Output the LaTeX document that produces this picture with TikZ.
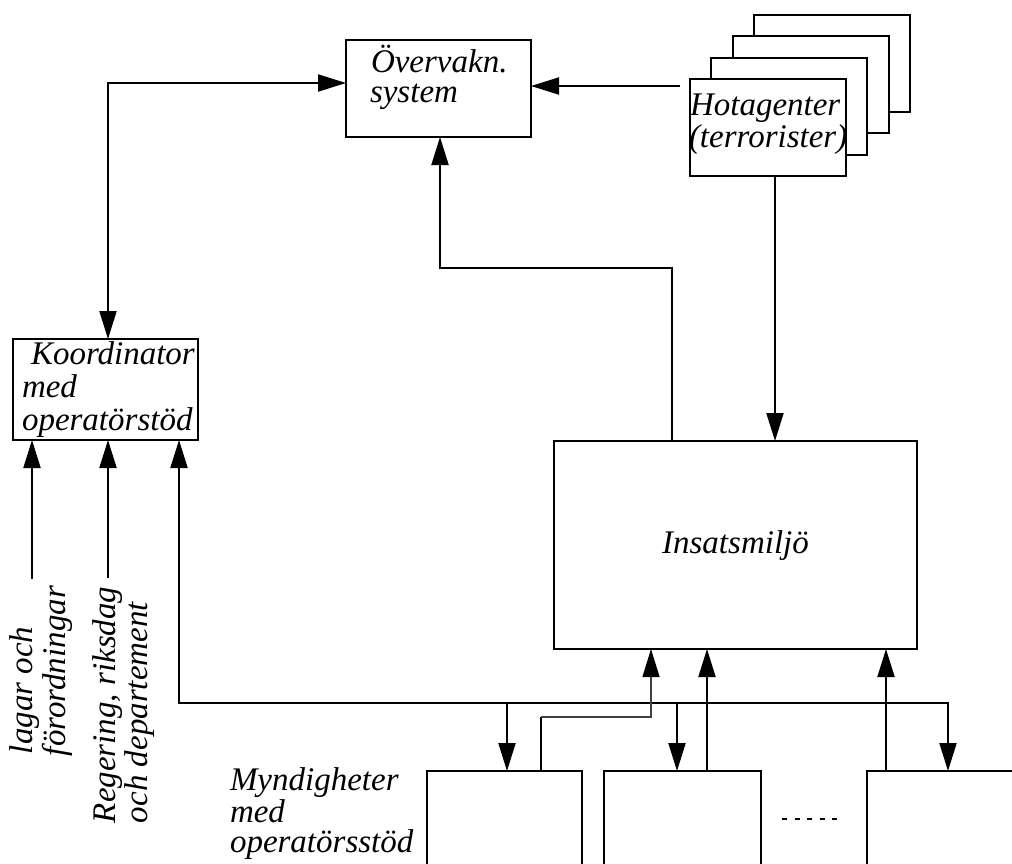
\documentclass[tikz,border=0pt]{standalone}
\usepackage{fontspec}
\setmainfont{Liberation Serif}
\usetikzlibrary{arrows.meta}
\begin{document}
\begin{tikzpicture}[x=1pt,y=-1pt,line width=2pt,
  >={Triangle[length=28pt,width=17pt]},
  box/.style={draw,line width=2pt,inner sep=0pt,outer sep=0pt},
  txt/.style={inner sep=0pt,outer sep=0pt,anchor=base west,
    font=\fontsize{33}{34}\selectfont\itshape},
  jogline/.style={line width=1.2pt,black!75,
    -{Triangle[length=28pt,width=17pt,color=black]}}]
\useasboundingbox (0,0) rectangle (1012,863);
\clip (0,0) rectangle (1012,863);

% boxes
\node[box,minimum width=185pt,minimum height=97pt] (ov) at (438.5,88.5) {};
\node[box,fill=white,minimum width=156pt,minimum height=97pt] (hot4) at (831.9,63.6) {};
\node[box,fill=white,minimum width=156pt,minimum height=97pt] (hot3) at (810.6,84.9) {};
\node[box,fill=white,minimum width=156pt,minimum height=97pt] (hot2) at (789.3,106.2) {};
\node[box,fill=white,minimum width=156pt,minimum height=97pt] (hot1) at (768,127.5) {};
\node[box,minimum width=185pt,minimum height=101pt] (koord) at (105.5,389.5) {};
\node[box,minimum width=363pt,minimum height=208pt] (ins) at (735.5,545) {};
\node[box,minimum width=155pt,minimum height=129pt] (m1) at (504.5,835.5) {};
\node[box,minimum width=157pt,minimum height=129pt] (m2) at (682.5,835.5) {};
\node[box,minimum width=183pt,minimum height=129pt] (m3) at (958.5,835.5) {};

% texts
\node[txt] (ovt1) at (371,72) {Övervakn.};
\node[txt] (ovt2) at (370,102) {system};
\node[txt] (hott1) at (690,115) {Hotagenter};
\node[txt] (hott2) at (689,147) {(terrorister)};
\node[txt] (kt1) at (31,364) {Koordinator};
\node[txt] (kt2) at (22,397) {med};
\node[txt] (kt3) at (22,430) {operatörstöd};
\node[txt,anchor=base] (inst) at (735.5,553) {Insatsmiljö};
\node[txt] (myt1) at (230,790) {Myndigheter};
\node[txt] (myt2) at (230,822) {med};
\node[txt] (myt3) at (230,852) {operatörsstöd};
\node[txt,rotate=90] (lag1) at (32,754) {lagar och};
\node[txt,rotate=90] (lag2) at (65,756) {förordningar};
\node[txt,rotate=90] (reg1) at (115,823) {Regering, riksdag};
\node[txt,rotate=90] (reg2) at (147,823) {och departement};

% routing points
\coordinate (kbend) at (108,83);
\coordinate (hotgap) at (680,86);
\coordinate (r1) at (672,268);
\coordinate (r2) at (440,268);
\coordinate (hdrop) at (775,300);
\coordinate (lagin) at (32,579);
\coordinate (regin) at (108,578);
\coordinate (busL) at (179,703);
\coordinate (busR) at (948,703);
\coordinate (d1) at (507,703);
\coordinate (d2) at (677,703);
\coordinate (j1) at (541,717);
\coordinate (j2) at (651,717);
\coordinate (u2) at (707,760);
\coordinate (u3) at (886,760);

% connectors
\draw[<->] (koord.north -| kbend) -- (kbend) -- (ov.west |- kbend);
\draw[->] (hotgap) -- (ov.east |- hotgap);
\draw[->] (ins.north -| r1) -- (r1) -- (r2) -- (ov.south -| r2);
\draw[->] (hot1.south -| hdrop) -- (ins.north -| hdrop);
\draw[->] (lagin) -- (koord.south -| lagin);
\draw[->] (regin) -- (koord.south -| regin);
\draw[<->] (koord.south -| busL) -- (busL) -- (busR) -- (m3.north -| busR);
\draw[->] (d1) -- (m1.north -| d1);
\draw[->] (d2) -- (m2.north -| d2);
\draw (m1.north -| j1) -- (j1);
\draw[jogline] (j1) -- (j2) -- (ins.south -| j2);
\draw[->] (m2.north -| u2) -- (ins.south -| u2);
\draw[->] (m3.north -| u3) -- (ins.south -| u3);

% ellipsis between the agency boxes
\draw[dash pattern=on 5pt off 7.5pt] (782,819) -- (838,819);
\end{tikzpicture}
\end{document}
